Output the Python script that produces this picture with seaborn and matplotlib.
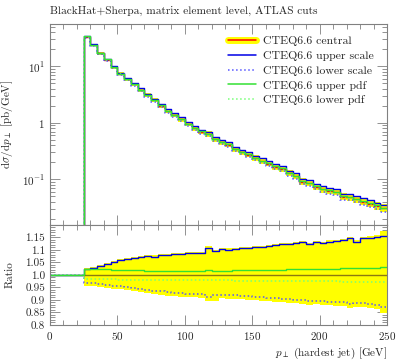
import numpy as np
import matplotlib
matplotlib.use('Agg')
import matplotlib.pyplot as plt
from matplotlib.lines import Line2D
from matplotlib.ticker import (MultipleLocator, FixedLocator, FixedFormatter,
                               LogLocator, NullFormatter)
import seaborn as sns


FONT_SIZE = 8

# bins of the hardest jet pT [GeV], 5 GeV wide, cut at 25 GeV
pt_edges = np.arange(0, 255, 5)
n_empty = 5   # bins below the 25 GeV cut

# CTEQ6.6 central, d(sigma)/dpT [pb/GeV] for 25..250 GeV
central = [33.0, 23.7, 16.9, 12.9, 9.6, 7.3, 5.9, 4.8, 3.8, 3.05,
           2.5, 2.0, 1.62, 1.37, 1.15, 0.95, 0.80, 0.69, 0.63, 0.51,
           0.45, 0.41, 0.34, 0.30, 0.27, 0.237, 0.21, 0.188, 0.166, 0.152,
           0.127, 0.114, 0.091, 0.085, 0.074, 0.066, 0.062, 0.059, 0.049, 0.048,
           0.044, 0.040, 0.037, 0.0335, 0.0305]

# ratios to central
upper_scale = [1.023, 1.029, 1.036, 1.045, 1.053, 1.058, 1.064, 1.068, 1.072, 1.077,
               1.073, 1.078, 1.080, 1.083, 1.085, 1.087, 1.088, 1.089, 1.106, 1.094,
               1.103, 1.101, 1.103, 1.106, 1.107, 1.110, 1.112, 1.115, 1.119, 1.123,
               1.124, 1.127, 1.133, 1.123, 1.131, 1.128, 1.133, 1.136, 1.138, 1.146,
               1.133, 1.146, 1.147, 1.150, 1.155]
lower_scale = [0.968, 0.966, 0.963, 0.960, 0.957, 0.954, 0.950, 0.947, 0.944, 0.940,
               0.936, 0.934, 0.930, 0.929, 0.927, 0.925, 0.924, 0.923, 0.912, 0.918,
               0.920, 0.919, 0.918, 0.917, 0.915, 0.913, 0.911, 0.909, 0.906, 0.904,
               0.902, 0.900, 0.898, 0.894, 0.897, 0.895, 0.893, 0.891, 0.890, 0.884,
               0.889, 0.886, 0.884, 0.881, 0.872]
upper_pdf = [1.025, 1.024, 1.023, 1.022, 1.021, 1.020, 1.019, 1.018, 1.018, 1.017,
             1.016, 1.016, 1.016, 1.016, 1.016, 1.017, 1.017, 1.017, 1.018, 1.017,
             1.017, 1.017, 1.018, 1.018, 1.019, 1.019, 1.020, 1.020, 1.021, 1.021,
             1.022, 1.022, 1.023, 1.023, 1.024, 1.024, 1.025, 1.025, 1.026, 1.027,
             1.027, 1.028, 1.028, 1.029, 1.030]
lower_pdf = [0.983, 0.983, 0.982, 0.982, 0.982, 0.981, 0.981, 0.981, 0.980, 0.980,
             0.980, 0.980, 0.980, 0.979, 0.979, 0.979, 0.979, 0.979, 0.978, 0.978,
             0.978, 0.978, 0.977, 0.977, 0.977, 0.977, 0.976, 0.976, 0.976, 0.976,
             0.975, 0.975, 0.975, 0.975, 0.974, 0.974, 0.974, 0.974, 0.973, 0.973,
             0.973, 0.972, 0.972, 0.972, 0.971]
# total uncertainty band (ratio)
band_hi = [1.030, 1.034, 1.041, 1.050, 1.058, 1.063, 1.069, 1.073, 1.077, 1.082,
           1.079, 1.083, 1.085, 1.088, 1.090, 1.092, 1.093, 1.094, 1.117, 1.099,
           1.108, 1.106, 1.108, 1.111, 1.112, 1.115, 1.117, 1.120, 1.124, 1.128,
           1.129, 1.132, 1.138, 1.129, 1.136, 1.134, 1.139, 1.142, 1.144, 1.153,
           1.140, 1.153, 1.155, 1.160, 1.178]
band_lo = [0.958, 0.956, 0.953, 0.950, 0.946, 0.943, 0.939, 0.936, 0.932, 0.928,
           0.924, 0.922, 0.918, 0.916, 0.914, 0.912, 0.911, 0.910, 0.897, 0.898,
           0.907, 0.906, 0.905, 0.904, 0.902, 0.900, 0.898, 0.896, 0.893, 0.891,
           0.889, 0.887, 0.885, 0.880, 0.884, 0.882, 0.880, 0.877, 0.876, 0.870,
           0.874, 0.871, 0.869, 0.864, 0.848]

ratio_ticks = [0.8, 0.85, 0.9, 0.95, 1.0, 1.05, 1.1, 1.15]
ratio_labels = ['0.8', '0.85', '0.9', '0.95', '1.0', '1.05', '1.1', '1.15']
log_labels = {0.1: r'$10^{-1}$', 1.0: r'$1$', 10.0: r'$10^{1}$'}

band_color = '#ffff00'
central_color = '#ff0000'
central_ratio_color = '#8c7a10'
scale_color = '#0000e6'
scale_alt = '#5555ff'
pdf_color = '#33e033'
pdf_alt = '#77ff77'
frame_color = '#808080'


sns.set_style('ticks')
plt.rcParams['font.family'] = ['cmr10', 'DejaVu Serif']
plt.rcParams['mathtext.fontset'] = 'cm'
plt.rcParams['axes.unicode_minus'] = False
plt.rcParams['axes.formatter.use_mathtext'] = True


def step_line(ax, vals, **kw):
    y = np.append(vals, vals[-1])
    sns.lineplot(x=pt_edges, y=y, ax=ax, drawstyle='steps-post',
                 estimator=None, sort=False, **kw)


def style_axes(ax):
    for s in ax.spines.values():
        s.set_color(frame_color)
        s.set_linewidth(0.8)
    ax.tick_params(which='both', direction='in', top=True, right=True,
                   color=frame_color, labelsize=FONT_SIZE, width=0.6)
    ax.tick_params(which='major', length=7)
    ax.tick_params(which='minor', length=3.5)
    ax.xaxis.set_major_locator(MultipleLocator(50))
    ax.xaxis.set_minor_locator(MultipleLocator(10))
    ax.set_xlim(0, 250)


fig = plt.figure(figsize=(3.99, 3.6), dpi=100)
ax1 = fig.add_axes([50/399, 1-225/360, 337/399, 201/360])
ax2 = fig.add_axes([50/399, 1-325/360, 337/399, 100/360])

cen = np.array(central)
zeros = np.zeros(n_empty)
ones = np.ones(n_empty)

# ---- main panel (dotted first so the solid green ends up on top)
ax1.fill_between(pt_edges[n_empty:], np.append(cen*band_lo, cen[-1]*band_lo[-1]),
                 np.append(cen*band_hi, cen[-1]*band_hi[-1]),
                 step='post', color=band_color, lw=0)
step_line(ax1, np.concatenate([zeros, cen]), color=central_color, lw=1.0)
step_line(ax1, np.concatenate([zeros, cen*lower_scale]), color=scale_alt, lw=1.1, linestyle=':')
step_line(ax1, np.concatenate([zeros, cen*upper_scale]), color=scale_color, lw=1.0)
step_line(ax1, np.concatenate([zeros, cen*lower_pdf]), color=pdf_alt, lw=1.1, linestyle=':')
step_line(ax1, np.concatenate([zeros, cen*upper_pdf]), color=pdf_color, lw=1.0)

ax1.set_yscale('log')
ax1.set_ylim(0.0155, 56)
style_axes(ax1)
ax1.yaxis.set_major_locator(FixedLocator(list(log_labels.keys())))
ax1.yaxis.set_major_formatter(FixedFormatter(list(log_labels.values())))
ax1.yaxis.set_minor_locator(LogLocator(base=10, subs=np.arange(2, 10)))
ax1.yaxis.set_minor_formatter(NullFormatter())
ax1.set_xticklabels([])
ax1.set_xlabel('')
ax1.set_ylabel(r'd$\sigma$/d$p_\perp$ [pb/GeV]', size=FONT_SIZE)
ax1.yaxis.set_label_coords(-0.105, 0.5)
ax1.set_title('BlackHat+Sherpa, matrix element level, ATLAS cuts',
              loc='left', size=FONT_SIZE+0.2, pad=7)

handles = [(Line2D([], [], color=band_color, lw=5), Line2D([], [], color=central_color, lw=1.1)),
           Line2D([], [], color=scale_color, lw=1.1),
           Line2D([], [], color=scale_alt, lw=1.1, linestyle=':'),
           Line2D([], [], color=pdf_color, lw=1.1),
           Line2D([], [], color=pdf_alt, lw=1.1, linestyle=':')]
labels = ['CTEQ6.6 central', 'CTEQ6.6 upper scale', 'CTEQ6.6 lower scale',
          'CTEQ6.6 upper pdf', 'CTEQ6.6 lower pdf']
ax1.legend(handles, labels, loc='upper left', bbox_to_anchor=((228-50)/337, 0.94),
           frameon=False, fontsize=FONT_SIZE+0.5, borderpad=0, borderaxespad=0,
           handlelength=2.4, handletextpad=0.6, labelspacing=0.38)

# ---- ratio panel
ax2.fill_between(pt_edges[n_empty:], np.append(band_lo, band_lo[-1]),
                 np.append(band_hi, band_hi[-1]),
                 step='post', color=band_color, lw=0)
step_line(ax2, np.concatenate([ones, np.ones(len(cen))]), color=central_ratio_color, lw=1.0)
step_line(ax2, np.concatenate([ones, lower_scale]), color=scale_alt, lw=1.1, linestyle=':')
step_line(ax2, np.concatenate([ones, upper_scale]), color=scale_color, lw=1.0)
step_line(ax2, np.concatenate([ones, lower_pdf]), color=pdf_alt, lw=1.1, linestyle=':')
step_line(ax2, np.concatenate([ones, upper_pdf]), color=pdf_color, lw=1.0)

ax2.set_ylim(0.8, 1.2)
style_axes(ax2)
ax2.yaxis.set_major_locator(FixedLocator(ratio_ticks))
ax2.yaxis.set_major_formatter(FixedFormatter(ratio_labels))
ax2.yaxis.set_minor_locator(MultipleLocator(0.01))
ax2.set_ylabel('Ratio', size=FONT_SIZE)
ax2.yaxis.set_label_coords(-0.105, 0.5)
ax2.set_xlabel(r'$p_\perp$ (hardest jet) [GeV]', size=FONT_SIZE, loc='right', labelpad=3)

plt.savefig('out.png', dpi=100)
plt.close()
